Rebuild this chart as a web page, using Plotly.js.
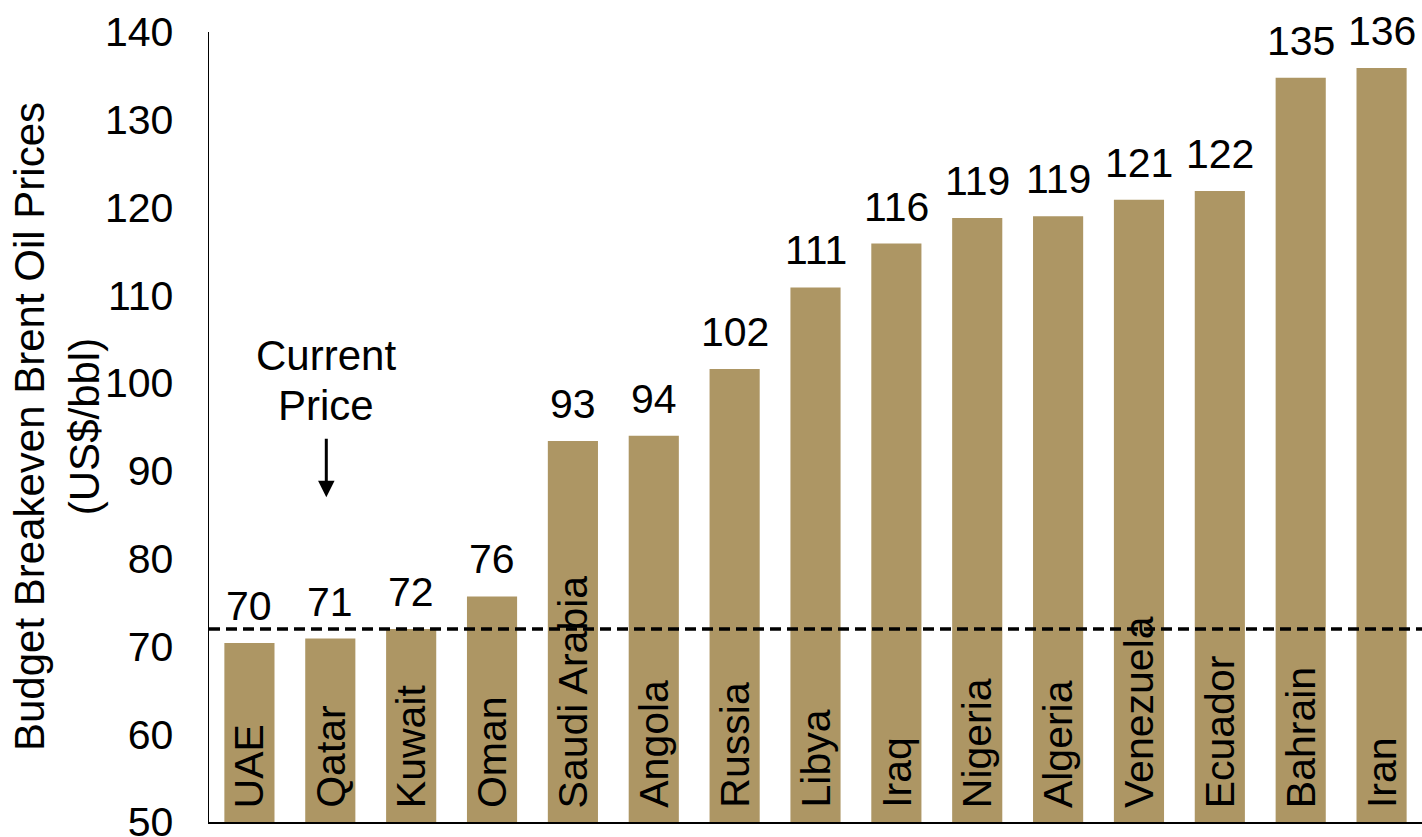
<!DOCTYPE html>
<html>
<head>
<meta charset="utf-8">
<script src="https://cdn.plot.ly/plotly-3.0.1.min.js"></script>
<style>html,body{margin:0;padding:0;background:#fff;}#chart{width:1422px;height:837px;}</style>
</head>
<body>
<div id="chart"></div>
<script>
const countries = ["UAE","Qatar","Kuwait","Oman","Saudi Arabia","Angola","Russia","Libya","Iraq","Nigeria","Algeria","Venezuela","Ecuador","Bahrain","Iran"];
const breakeven = [70.4, 70.9, 72.0, 75.7, 93.4, 94.0, 101.6, 110.9, 115.9, 118.8, 119.0, 120.9, 121.9, 134.8, 135.9];
const valueLabels = ["70","71","72","76","93","94","102","111","116","119","119","121","122","135","136"];
const currentPrice = 72;
const yTicks = [50,60,70,80,90,100,110,120,130,140];

const FONT = "Liberation Sans, Arial, sans-serif";
const FS = 41;

const annotations = [];
countries.forEach((c, i) => {
  annotations.push({
    x: c, y: breakeven[i], xref: 'x', yref: 'y',
    text: valueLabels[i], showarrow: false,
    xanchor: 'center', yanchor: 'bottom', yshift: 12,
    font: {family: FONT, size: FS, color: '#000'}
  });
  annotations.push({
    x: c, y: 50, xref: 'x', yref: 'y',
    text: c, showarrow: false, textangle: -90,
    xanchor: 'center', yanchor: 'bottom', yshift: 12,
    font: {family: FONT, size: FS, color: '#000'}
  });
});
annotations.push({
  x: 'Qatar', y: 103.1, xref: 'x', yref: 'y', xshift: -4,
  text: 'Current', showarrow: false,
  xanchor: 'center', yanchor: 'middle',
  font: {family: FONT, size: 42, color: '#000'}
});
annotations.push({
  x: 'Qatar', y: 97.4, xref: 'x', yref: 'y', xshift: -4,
  text: 'Price', showarrow: false,
  xanchor: 'center', yanchor: 'middle',
  font: {family: FONT, size: 42, color: '#000'}
});
annotations.push({
  x: 'Qatar', y: 87.0, xref: 'x', yref: 'y', xshift: -4,
  text: '', showarrow: true, ax: 0, ay: -60,
  arrowhead: 2, arrowsize: 1.1, arrowwidth: 3, arrowcolor: '#000'
});
annotations.push({
  x: 0, y: 0.5, xref: 'paper', yref: 'paper', xshift: -152,
  text: 'Budget Breakeven Brent Oil Prices<br>(US$/bbl)', showarrow: false, textangle: -90,
  xanchor: 'center', yanchor: 'middle',
  font: {family: FONT, size: 42, color: '#000'}
});

const data = [{
  type: 'bar', x: countries, y: breakeven,
  marker: {color: '#AD9664'},
  hoverinfo: 'x+y'
}];

const layout = {
  width: 1422, height: 837,
  margin: {l: 209, r: 0, t: 32, b: 15},
  paper_bgcolor: '#fff', plot_bgcolor: '#fff',
  bargap: 0.38,
  showlegend: false,
  font: {family: FONT, size: FS, color: '#000'},
  xaxis: {
    showticklabels: false, ticks: '', showgrid: false, zeroline: false,
    showline: true, linecolor: '#000', linewidth: 2
  },
  yaxis: {
    range: [50, 140], tickvals: yTicks, ticks: '', showgrid: false, zeroline: false,
    showline: true, linecolor: '#000', linewidth: 1.5,
    tickfont: {family: FONT, size: FS, color: '#000'},
    ticklabelstandoff: 26,
    ticklabeloverflow: 'allow'
  },
  shapes: [{
    type: 'line', xref: 'paper', x0: 0, x1: 1, yref: 'y', y0: currentPrice, y1: currentPrice,
    line: {color: '#000', width: 3.5, dash: '11px,6px'}
  }],
  annotations: annotations
};

Plotly.newPlot('chart', data, layout, {displayModeBar: false, staticPlot: true});
</script>
</body>
</html>
